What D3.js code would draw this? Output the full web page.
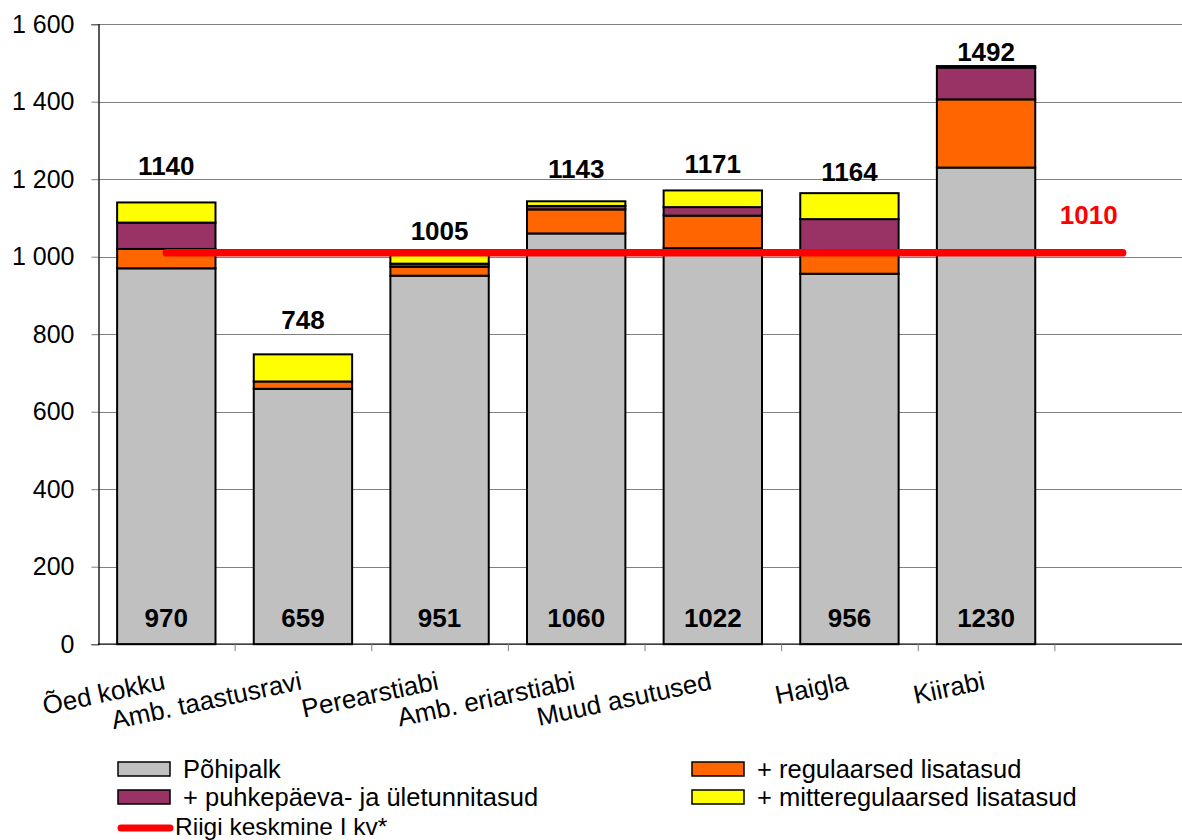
<!DOCTYPE html>
<html>
<head>
<meta charset="utf-8">
<script src="https://cdn.jsdelivr.net/npm/d3@7/dist/d3.min.js"></script>
<style>
  html, body { margin: 0; padding: 0; background: #fff; }
  text { font-family: "Liberation Sans", Arial, sans-serif; }
</style>
</head>
<body>
<svg id="chart" width="1182" height="840"></svg>
<script>
// ---------- DATA ----------
const categories = ["Õed kokku", "Amb. taastusravi", "Perearstiabi", "Amb. eriarstiabi", "Muud asutused", "Haigla", "Kiirabi", ""];
const basePay   = [970, 659, 951, 1060, 1022, 956, 1230];
const regular   = [50, 19, 23, 62, 84, 56, 176];
const holiday   = [68, 0, 8, 9, 22, 85, 82];
const irregular = [52, 70, 23, 12, 43, 67, 4];
const totals    = [1140, 748, 1005, 1143, 1171, 1164, 1492];
const nationalAvg = [1010, 1010, 1010, 1010, 1010, 1010, 1010, 1010];
const yTicks = [0, 200, 400, 600, 800, 1000, 1200, 1400, 1600];
const seriesNames = ["Põhipalk", "+ regulaarsed lisatasud", "+ puhkepäeva- ja ületunnitasud", "+ mitteregulaarsed lisatasud"];
const lineName = "Riigi keskmine I kv*";
const avgLabel = "1010";

// ---------- LAYOUT / STYLE ----------
const colors = ["#C0C0C0", "#FF6600", "#993366", "#FFFF00"];
const labelLift = [27, 25, 15, 23, 17, 12, 5]; // manual placement of total labels (px above bar)

const svg = d3.select("#chart");
const x = d3.scaleBand().domain(categories).range([98, 1191]).paddingInner(0.28).paddingOuter(0.14);
const y = d3.scaleLinear().domain([0, 1600]).range([644.2, 24.2]);

// gridlines
svg.append("g").selectAll("line").data(yTicks.filter(d => d > 0)).join("line")
  .attr("x1", 98).attr("x2", 1182)
  .attr("y1", d => Math.round(y(d)) + 0.5).attr("y2", d => Math.round(y(d)) + 0.5)
  .attr("stroke", "#808080").attr("stroke-width", 1);

// y axis
const fmt = d => d3.format(",")(d).replace(/,/g, " ");
const yAxis = svg.append("g").attr("transform", "translate(98.5,0)")
  .call(d3.axisLeft(y).tickValues(yTicks).tickFormat(fmt).tickSize(7).tickPadding(17));
yAxis.select(".domain").attr("stroke", "#000").attr("stroke-width", 1.3);
yAxis.selectAll(".tick line").attr("stroke", "#808080");
yAxis.selectAll(".tick text").attr("font-size", 25).attr("fill", "#000")
  .attr("font-family", "'Liberation Sans', Arial, sans-serif");

// stacked data
const stackRows = basePay.map((b, i) => ({cat: categories[i], s0: b, s1: regular[i], s2: holiday[i], s3: irregular[i]}));
const stack = d3.stack().keys(["s0", "s1", "s2", "s3"])(stackRows);

const gBars = svg.append("g");
stack.forEach((layer, li) => {
  gBars.selectAll(null).data(layer.filter(d => d[1] - d[0] > 0)).join("rect")
    .attr("x", d => x(d.data.cat))
    .attr("width", x.bandwidth())
    .attr("y", d => y(d[1]))
    .attr("height", d => y(d[0]) - y(d[1]))
    .attr("fill", colors[li])
    .attr("stroke", "#000").attr("stroke-width", 2);
});

// x axis line and ticks
const step = x.step();
const x0 = x.range()[0];
svg.append("line").attr("x1", x0).attr("x2", 1182).attr("y1", y(0)).attr("y2", y(0))
  .attr("stroke", "#000").attr("stroke-width", 1.3);
svg.append("g").selectAll("line").data(d3.range(1, categories.length)).join("line")
  .attr("x1", d => x0 + d * step + 0.5).attr("x2", d => x0 + d * step + 0.5)
  .attr("y1", y(0)).attr("y2", y(0) + 7)
  .attr("stroke", "#808080").attr("stroke-width", 1);

// category labels
svg.append("g").selectAll("text").data(categories.filter(c => c !== "")).join("text")
  .attr("transform", d => `translate(${x(d) + x.bandwidth() / 2},689) rotate(-12)`)
  .attr("text-anchor", "end")
  .attr("font-size", 26)
  .attr("fill", "#000")
  .text(d => d);

// base labels inside bars
svg.append("g").selectAll("text").data(basePay).join("text")
  .attr("x", (d, i) => x(categories[i]) + x.bandwidth() / 2)
  .attr("y", y(0) - 17)
  .attr("text-anchor", "middle")
  .attr("font-size", 26).attr("font-weight", "bold")
  .text(d => d);

// total labels
svg.append("g").selectAll("text").data(totals).join("text")
  .attr("x", (d, i) => x(categories[i]) + x.bandwidth() / 2)
  .attr("y", (d, i) => y(d) - labelLift[i])
  .attr("text-anchor", "middle")
  .attr("font-size", 26).attr("font-weight", "bold")
  .text(d => d);

// national average line
const line = d3.line().x((d, i) => x(categories[i]) + x.bandwidth() / 2).y(d => y(d));
svg.append("path").datum(nationalAvg).attr("d", line)
  .attr("fill", "none").attr("stroke", "#FF0000").attr("stroke-width", 7.5).attr("stroke-linecap", "round");

const lastI = nationalAvg.length - 1;
svg.append("text")
  .attr("x", x(categories[lastI]) + x.bandwidth() / 2 - 5)
  .attr("y", y(nationalAvg[lastI]) - 29)
  .attr("text-anchor", "end")
  .attr("font-size", 26).attr("font-weight", "bold").attr("fill", "#FF0000")
  .text(avgLabel);

// legend
const legendItems = [
  {name: seriesNames[0], color: colors[0], lx: 118, ly: 769},
  {name: seriesNames[1], color: colors[1], lx: 692, ly: 769},
  {name: seriesNames[2], color: colors[2], lx: 118, ly: 797},
  {name: seriesNames[3], color: colors[3], lx: 692, ly: 797}
];
const gLeg = svg.append("g");
legendItems.forEach(it => {
  gLeg.append("rect").attr("x", it.lx).attr("y", it.ly - 7).attr("width", 52).attr("height", 14)
    .attr("fill", it.color).attr("stroke", "#000").attr("stroke-width", 1.5);
  gLeg.append("text").attr("x", it.lx + 65).attr("y", it.ly + 9)
    .attr("font-size", 25.5).attr("fill", "#000").text(it.name);
});
gLeg.append("line").attr("x1", 121).attr("x2", 170).attr("y1", 828).attr("y2", 828)
  .attr("stroke", "#FF0000").attr("stroke-width", 7).attr("stroke-linecap", "round");
gLeg.append("text").attr("x", 175).attr("y", 835).attr("font-size", 24.5).attr("fill", "#000").text(lineName);
</script>
</body>
</html>
